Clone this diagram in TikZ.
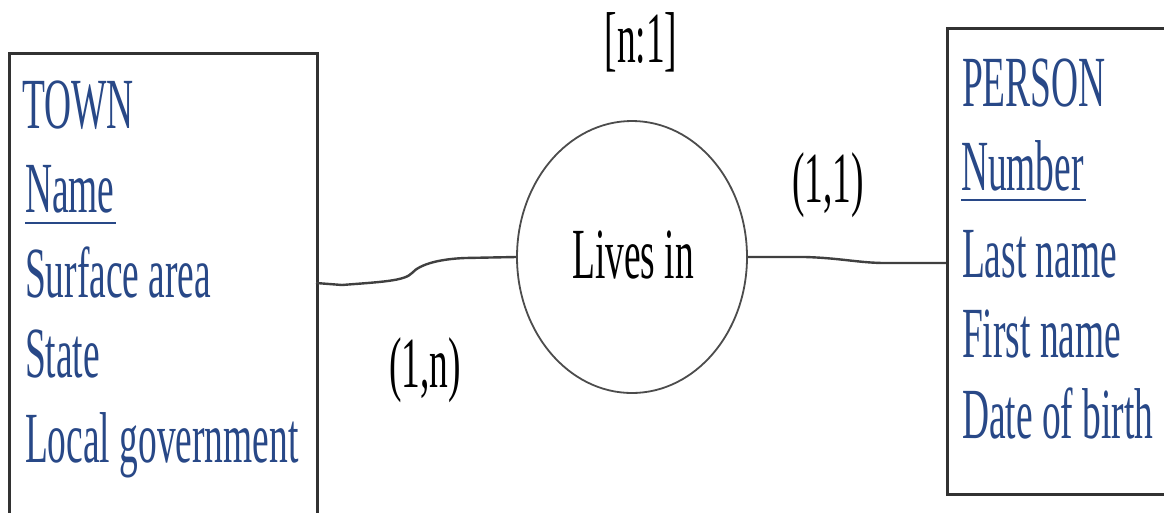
\documentclass[tikz,border=0pt]{standalone}
\usepackage{graphicx}
\usepackage{fontspec}
\setmainfont{Liberation Serif}
\usetikzlibrary{shapes.geometric}
\newcommand\nar[1]{\scalebox{0.52}[1]{#1}}
\definecolor{attrblue}{RGB}{40,72,135}
\definecolor{edgegray}{RGB}{50,50,50}
\begin{document}
\begin{tikzpicture}[x=1pt,y=-1pt,
  big/.style={font=\fontsize{72}{80}\selectfont, inner sep=0pt, outer sep=0pt},
  attr/.style={big, text=attrblue, anchor=base west},
  lbl/.style={big, text=black, anchor=base},
  entity/.style={draw=edgegray, line width=2.6pt, rectangle, inner sep=0pt, anchor=north west},
  rel/.style={draw=black!70, line width=1.8pt, ellipse, inner sep=0pt, minimum width=230pt, minimum height=272pt},
  link/.style={draw=black!75, line width=2.4pt, line join=round},
  ul/.style={draw=attrblue, line width=2.6pt}]
\clip[use as bounding box] (0,0) rectangle (1164,512);
\fill[white] (0,0) rectangle (1164,512);
% entities
\node[entity, minimum width=308pt, minimum height=520pt] (town) at (8,52) {};
\node[entity, minimum width=260pt, minimum height=466pt] (person) at (946,27) {};
% TOWN attributes
\node[attr] (tT) at (22,128) {\nar{TOWN}};
\node[attr] (tN) at (25,212) {\nar{Name}};
\node[attr] (tS) at (25,297) {\nar{Surface area}};
\node[attr] (tSt) at (25,377) {\nar{State}};
\node[attr] (tL) at (25,462) {\nar{Local government}};
\draw[ul] ([yshift=-11pt]tN.base west) -- ([yshift=-11pt,xshift=2pt]tN.base east);
% PERSON attributes
\node[attr] (pP) at (962,106) {\nar{PERSON}};
\node[attr] (pN) at (961,190) {\nar{Number}};
\node[attr] (pL) at (962,277) {\nar{Last name}};
\node[attr] (pF) at (962,357) {\nar{First name}};
\node[attr] (pD) at (962,438) {\nar{Date of birth}};
\draw[ul] ([yshift=-10pt]pN.base west) -- ([yshift=-10pt,xshift=2pt]pN.base east);
% relationship
\node[rel] (lives) at (632,257) {};
\node[lbl] (livesT) at (633,278) {\nar{Lives in}};
\node[lbl] (card) at (641,62) {\nar{[n:1]}};
\node[lbl] (c1n) at (425,387) {\nar{(1,n)}};
\node[lbl] (c11) at (828,202) {\nar{(1,1)}};
% connectors
\coordinate (tA) at (316,283);
\coordinate (pA) at (946,263);
\draw[link] (tA) -- (342,285) .. controls (380,282) and (405,281) .. (412,273)
  .. controls (420,264) and (440,259) .. (465,258) -- (lives.west);
\draw[link] (lives.east) -- (805,257) .. controls (840,258) and (860,263) .. (885,263) -- (pA);
\end{tikzpicture}
\end{document}
